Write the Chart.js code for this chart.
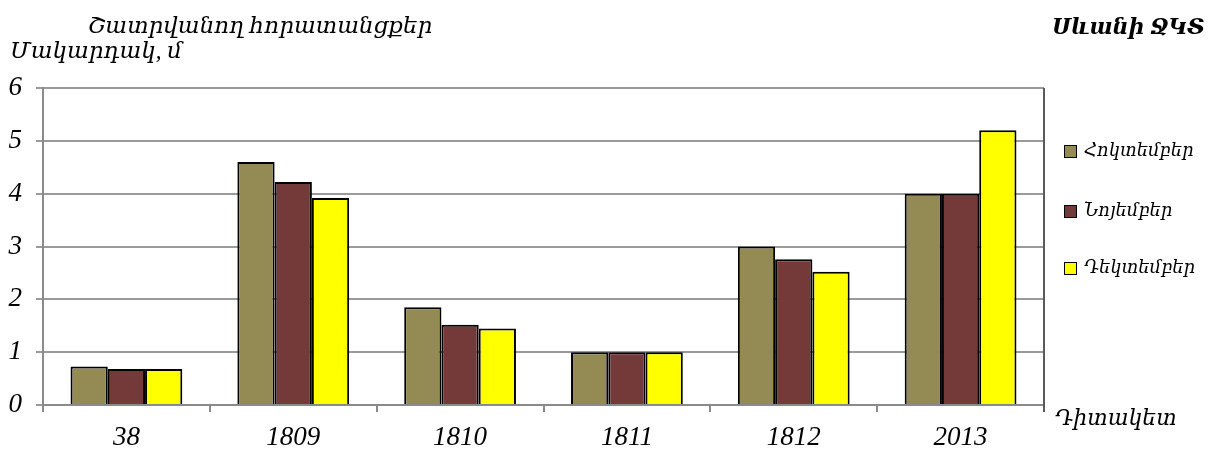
<!DOCTYPE html>
<html>
<head>
<meta charset="utf-8">
<script src="https://cdn.jsdelivr.net/npm/chart.js@4"></script>
<style>
  body { margin: 0; background: #fff; }
  #wrap { position: relative; width: 1217px; height: 452px; }
  canvas { position: absolute; left: 0; top: 0; }
  .lbl { position: absolute; font-family: "Liberation Serif", "DejaVu Serif", serif; font-style: italic; color: #000; white-space: nowrap; }
  .leg { position: absolute; left: 1064px; font-family: "Liberation Serif", "DejaVu Serif", serif; font-style: italic; font-size: 18px; white-space: nowrap; }
  .leg span { display: inline-block; width: 11px; height: 11px; border: 1.5px solid #000; margin-right: 7px; vertical-align: middle; }
</style>
</head>
<body>
<div id="wrap">
  <canvas id="chart" width="1217" height="452"></canvas>
  <div class="lbl" style="left:88px; top:12px; font-size:23px;">Շատրվանող  հորատանցքեր</div>
  <div class="lbl" style="left:10px; top:37px; font-size:23px;">Մակարդակ, մ</div>
  <div class="lbl" style="left:1052px; top:13px; font-size:22px; font-weight:bold;">Սևանի ՋԿՏ</div>
  <div class="lbl" style="left:1055px; top:405px; font-size:22px;">Դիտակետ</div>
  <div id="legend"></div>
</div>
<script>
// categories (observation points)
const labels = ["38", "1809", "1810", "1811", "1812", "2013"];

// water level, m
const october  = [0.73, 4.60, 1.85, 1.00, 3.00, 4.00];
const november = [0.68, 4.22, 1.52, 1.00, 2.76, 4.00];
const december = [0.68, 3.92, 1.45, 1.00, 2.52, 5.20];

const seriesNames = ["Հոկտեմբեր", "Նոյեմբեր", "Դեկտեմբեր"];
const seriesColors = ["#948A54", "#743A3A", "#FFFF00"];

const yTicks = [0, 1, 2, 3, 4, 5, 6];

// html legend
const legendTop = [139, 199, 256];
const legendEl = document.getElementById("legend");
seriesNames.forEach((name, i) => {
    const d = document.createElement("div");
    d.className = "leg";
    d.style.top = legendTop[i] + "px";
    d.innerHTML = '<span style="background:' + seriesColors[i] + '"></span>' + name;
    legendEl.appendChild(d);
});

// right border of the plot area
const frame = {
    id: "frame",
    afterDraw(chart) {
        const a = chart.chartArea;
        const ctx = chart.ctx;
        ctx.save();
        ctx.strokeStyle = "#5a5a5a";
        ctx.lineWidth = 2;
        ctx.beginPath();
        ctx.moveTo(a.right, a.top);
        ctx.lineTo(a.right, a.bottom + 7);
        ctx.stroke();
        ctx.restore();
    }
};

const tickFont = { family: "'Liberation Serif', 'DejaVu Serif', serif", style: "italic", size: 27 };

const ctx = document.getElementById("chart").getContext("2d");
new Chart(ctx, {
    type: "bar",
    data: {
        labels: labels,
        datasets: [october, november, december].map((vals, i) => ({
            label: seriesNames[i],
            data: vals,
            backgroundColor: seriesColors[i],
            borderColor: "#000",
            borderWidth: 2,
            categoryPercentage: 0.67,
            barPercentage: 1.0
        }))
    },
    options: {
        responsive: false,
        animation: false,
        layout: { padding: { left: 0, right: 173, top: 88, bottom: 0 } },
        plugins: {
            legend: { display: false },
            tooltip: { enabled: false }
        },
        scales: {
            x: {
                grid: { display: true, drawOnChartArea: false, color: "#8a8a8a", lineWidth: 2, tickLength: 7, offset: true },
                border: { color: "#8a8a8a", width: 2 },
                ticks: { color: "#000", font: tickFont, padding: 10 },
                afterFit: s => { s.height = 47; }
            },
            y: {
                min: 0,
                max: 6,
                afterBuildTicks: s => { s.ticks = yTicks.map(v => ({ value: v })); },
                grid: { color: "#9a9a9a", lineWidth: 2, tickLength: 7 },
                border: { color: "#8a8a8a", width: 2 },
                ticks: { color: "#000", font: tickFont, padding: 14 },
                afterFit: s => { s.width = 43; }
            }
        }
    },
    plugins: [frame]
});
</script>
</body>
</html>
